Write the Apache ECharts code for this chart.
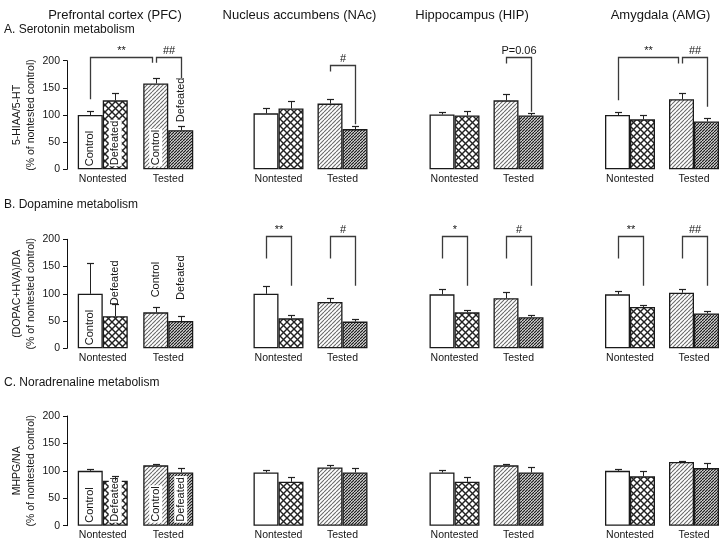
<!DOCTYPE html>
<html><head><meta charset="utf-8">
<script src="https://cdn.jsdelivr.net/npm/echarts@6/dist/echarts.min.js"></script>
<style>html,body{margin:0;padding:0;background:#fff}#c{width:722px;height:542px}</style>
</head><body><div id="c"></div>
<script>
// ---------- DATA ----------
const categories = ['Nontested', 'Tested'];
const regions = ['Prefrontal cortex (PFC)', 'Nucleus accumbens (NAc)', 'Hippocampus (HIP)', 'Amygdala (AMG)'];
const sections = ['A. Serotonin metabolism', 'B. Dopamine metabolism', 'C. Noradrenaline metabolism'];
const yNames = ['5-HIAA/5-HT', '(DOPAC+HVA)/DA', 'MHPG/NA'];
const yUnit = '(% of nontested control)';
const yTicks = [0, 50, 100, 150, 200];
const groups = ['Control', 'Defeated'];

// means per region: [Nontested, Tested]
const serotoninControl     = [[100, 158], [103, 121], [101, 127], [100, 129]];
const serotoninDefeated    = [[127, 72], [112, 74], [99, 99], [92, 88]];
const serotoninControlSem  = [[7, 10], [9, 9], [5, 11], [5, 11]];
const serotoninDefeatedSem = [[14, 7], [13, 6], [9, 5], [8, 6]];

const dopamineControl     = [[100, 66], [100, 85], [99, 92], [99, 102]];
const dopamineDefeated    = [[59, 50], [55, 49], [66, 57], [76, 64]];
const dopamineControlSem  = [[56, 9], [14, 8], [10, 12], [6, 7]];
const dopamineDefeatedSem = [[23, 9], [7, 5], [5, 5], [4, 4]];

const noradrenalineControl     = [[100, 110], [97, 106], [97, 110], [100, 116]];
const noradrenalineDefeated    = [[82, 97], [80, 97], [80, 97], [90, 105]];
const noradrenalineControlSem  = [[3, 2], [4, 4], [4, 3], [3, 2]];
const noradrenalineDefeatedSem = [[8, 9], [8, 9], [8, 10], [10, 10]];

// significance brackets: [row, region, fromBar, toBar, topValue, fromEndValue, toEndValue, text]
// bars: 0 Nontested Control, 1 Nontested Defeated, 2 Tested Control, 3 Tested Defeated
const brackets = [
  [0, 0, 0, 2, 206, 129, 196, '**'],
  [0, 0, 2, 3, 206, 196, 168, '##'],
  [0, 1, 2, 3, 192, 180, 83, '#'],
  [0, 2, 2, 3, 206, 195, 106, 'P=0.06'],
  [0, 3, 0, 2, 206, 127, 195, '**'],
  [0, 3, 2, 3, 206, 195, 115, '##'],
  [1, 1, 0, 1, 206, 165, 115, '**'],
  [1, 1, 2, 3, 206, 165, 115, '#'],
  [1, 2, 0, 1, 206, 165, 115, '*'],
  [1, 2, 2, 3, 206, 165, 115, '#'],
  [1, 3, 0, 1, 206, 165, 115, '**'],
  [1, 3, 2, 3, 206, 165, 115, '##']
];

const metabolites = [
  {ctrl: serotoninControl, def: serotoninDefeated, ctrlSem: serotoninControlSem, defSem: serotoninDefeatedSem},
  {ctrl: dopamineControl, def: dopamineDefeated, ctrlSem: dopamineControlSem, defSem: dopamineDefeatedSem},
  {ctrl: noradrenalineControl, def: noradrenalineDefeated, ctrlSem: noradrenalineControlSem, defSem: noradrenalineDefeatedSem}
];

// ---------- LAYOUT / STYLE ----------
const FONT = '"Liberation Sans", Arial, sans-serif';
const TXT = '#151515';
const BAR_W = 25, CAP = 3.5;
const colLeft = [70, 246.5, 422.5, 598];
const colWidth = [131, 128, 128, 128];
const rowTop = [60.7, 239.3, 416];
const rowHeight = [108.6, 109, 109.7];
const colTitleX = [115, 299.5, 472, 660.5];
const sectionY = [30, 205, 383];

function makePattern(size, draw) {
  const cv = document.createElement('canvas');
  cv.width = size; cv.height = size;
  const ctx = cv.getContext('2d');
  ctx.fillStyle = '#fff'; ctx.fillRect(0, 0, size, size);
  draw(ctx, size);
  return {image: cv, repeat: 'repeat'};
}
const crossFill = makePattern(7, (ctx, s) => {
  ctx.strokeStyle = '#222'; ctx.lineWidth = 1.4;
  for (const o of [-s, 0, s]) {
    ctx.beginPath(); ctx.moveTo(o, 0); ctx.lineTo(o + s, s); ctx.stroke();
    ctx.beginPath(); ctx.moveTo(o + s, 0); ctx.lineTo(o, s); ctx.stroke();
  }
});
const lightFill = makePattern(4, (ctx, s) => {
  ctx.strokeStyle = '#6a6a6a'; ctx.lineWidth = 1.1;
  for (const o of [-s, 0, s]) { ctx.beginPath(); ctx.moveTo(o, s); ctx.lineTo(o + s, 0); ctx.stroke(); }
});
const darkFill = makePattern(3, (ctx, s) => {
  ctx.strokeStyle = '#202020'; ctx.lineWidth = 1.3;
  for (const o of [-s, 0, s]) { ctx.beginPath(); ctx.moveTo(o, s); ctx.lineTo(o + s, 0); ctx.stroke(); }
});
const fills = [['#fff', lightFill], [crossFill, darkFill]]; // [group][category]

function inside(text, bg) {
  return {show: true, formatter: text, position: 'insideBottom', rotate: 90, align: 'left', verticalAlign: 'middle',
    distance: 3, fontSize: 11, fontFamily: FONT, color: TXT,
    backgroundColor: bg ? '#fff' : 'transparent', padding: bg ? [1, 1] : 0};
}
function above(text, dist, dx) {
  return {show: true, formatter: text, position: 'top', rotate: 90, align: 'left', verticalAlign: 'middle',
    distance: dist, offset: [dx, 0], fontSize: 11, fontFamily: FONT, color: TXT};
}
// labels on PFC bars per row: [NC, ND, TC, TD]
const pfcLabels = [
  [inside('Control'), inside('Defeated', true), inside('Control', true), above('Defeated', 7, 1)],
  [inside('Control'), above('Defeated', 17, -6), above('Control', 14, 1), above('Defeated', 20, 1)],
  [inside('Control'), inside('Defeated', true), inside('Control', true), inside('Defeated', true)]
];

const grids = [], xAxes = [], yAxes = [], series = [];
for (let r = 0; r < 3; r++) {
  const m = metabolites[r];
  for (let c = 0; c < 4; c++) {
    const k = grids.length;
    grids.push({left: colLeft[c], top: rowTop[r], width: colWidth[c], height: rowHeight[r],
      containLabel: false, outerBoundsMode: 'none'});
    xAxes.push({type: 'category', gridIndex: k, data: categories,
      axisLine: {show: false}, axisTick: {show: false},
      axisLabel: {interval: 0, hideOverlap: false, margin: 4, fontSize: 10.5, fontFamily: FONT, color: TXT}});
    yAxes.push({type: 'value', gridIndex: k, min: yTicks[0], max: yTicks[yTicks.length - 1], interval: 50,
      show: c === 0, offset: 3,
      name: yNames[r] + '\n' + yUnit, nameLocation: 'middle', nameGap: 28, nameRotate: 90,
      nameTextStyle: {fontSize: 10.5, fontFamily: FONT, color: TXT, lineHeight: 14.5},
      axisLine: {show: true, lineStyle: {color: '#111', width: 1}},
      axisTick: {show: true, length: 4, lineStyle: {color: '#111'}},
      axisLabel: {margin: 7, fontSize: 10.5, fontFamily: FONT, color: TXT},
      splitLine: {show: false}});
    const vals = [m.ctrl[c], m.def[c]];
    const sems = [m.ctrlSem[c], m.defSem[c]];
    for (let g = 0; g < 2; g++) {
      series.push({type: 'bar', name: groups[g], xAxisIndex: k, yAxisIndex: k,
        barWidth: BAR_W, barGap: '0%', silent: true, z: 2,
        itemStyle: {borderColor: '#1a1a1a', borderWidth: 1.3},
        data: vals[g].map((v, ci) => {
          const item = {value: v, itemStyle: {color: fills[g][ci]}};
          if (c === 0) item.label = pfcLabels[r][ci * 2 + g];
          return item;
        })});
    }
    const errData = [];
    for (let g = 0; g < 2; g++) for (let ci = 0; ci < 2; ci++) errData.push([ci, g, vals[g][ci], sems[g][ci]]);
    series.push({type: 'custom', xAxisIndex: k, yAxisIndex: k, clip: false, silent: true, z: 3,
      encode: {x: 0, y: 2}, data: errData,
      renderItem: (params, api) => {
        const cat = api.value(0), slot = api.value(1);
        const base = api.coord([cat, api.value(2)]);
        const top = api.coord([cat, api.value(2) + api.value(3)]);
        const x = Math.round(base[0] + (slot ? 1 : -1) * BAR_W / 2) + 0.5;
        const yt = Math.round(top[1]) + 0.5;
        return {type: 'group', children: [
          {type: 'line', shape: {x1: x, y1: base[1], x2: x, y2: yt}, style: {stroke: '#222', lineWidth: 1}},
          {type: 'line', shape: {x1: x - CAP, y1: yt, x2: x + CAP, y2: yt}, style: {stroke: '#222', lineWidth: 1.2}}
        ]};
      }});
    const bl = brackets.filter(b => b[0] === r && b[1] === c);
    if (bl.length) {
      series.push({type: 'custom', xAxisIndex: k, yAxisIndex: k, clip: false, silent: true, z: 4,
        encode: {x: 0, y: 1}, data: bl.map(b => [0, b[4], b[2], b[3], b[5], b[6]]),
        renderItem: (params, api) => {
          const b = bl[params.dataIndex];
          const shared = bl.some(o => o !== b && o[2] === b[3]);
          const px = (bar, v) => {
            const p = api.coord([bar >> 1, v]);
            return [p[0] + ((bar & 1) ? 1 : -1) * BAR_W / 2, p[1]];
          };
          const a = px(b[2], b[5]);
          const e = px(b[3], b[6]);
          const yTop = Math.round(api.coord([0, b[4]])[1]) + 0.5;
          const x1 = Math.round(a[0]) + 0.5;
          const x2 = Math.round(e[0] + (shared ? -3.5 : 0)) + 0.5;
          return {type: 'group', children: [
            {type: 'polyline', shape: {points: [[x1, a[1]], [x1, yTop], [x2, yTop], [x2, e[1]]]},
              style: {stroke: '#3a3a3a', lineWidth: 1.3, fill: null}},
            {type: 'text', style: {text: b[7], x: (x1 + x2) / 2, y: yTop - 1, align: 'center', verticalAlign: 'bottom',
              font: '11px ' + FONT, fill: TXT}}
          ]};
        }});
    }
  }
}

const graphics = [];
regions.forEach((t, i) => graphics.push({type: 'text', x: colTitleX[i], y: 15,
  style: {text: t, font: '13px ' + FONT, fill: TXT, align: 'center', verticalAlign: 'middle'}}));
sections.forEach((t, i) => graphics.push({type: 'text', x: 4, y: sectionY[i],
  style: {text: t, font: '12px ' + FONT, fill: TXT, align: 'left', verticalAlign: 'middle'}}));

const chart = echarts.init(document.getElementById('c'), null, {renderer: 'canvas'});
chart.setOption({
  animation: false,
  backgroundColor: '#fff',
  grid: grids, xAxis: xAxes, yAxis: yAxes, series: series, graphic: graphics
});
</script></body></html>
